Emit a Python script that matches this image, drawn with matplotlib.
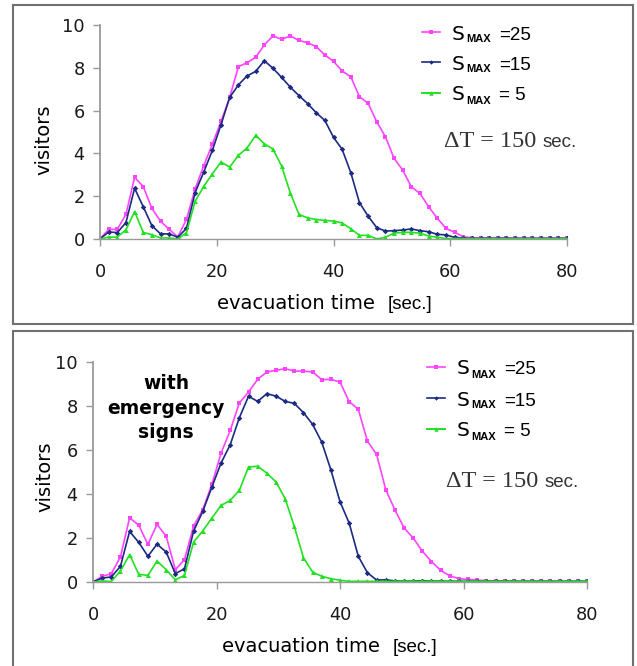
import numpy as np
import matplotlib
matplotlib.use('Agg')
import matplotlib.pyplot as plt
from matplotlib.patches import Rectangle

# time axis: 55 samples spread over 0..80 sec
t = np.linspace(0, 80, 55)

# top panel (no signs)
top_s25 = [0, 0.45, 0.45, 1.15, 2.88, 2.45, 1.43, 0.83, 0.45, 0.1,
           0.92, 2.34, 3.43, 4.44, 5.5, 6.62, 8.05, 8.24, 8.49, 9.07,
           9.49, 9.33, 9.49, 9.28, 9.17, 8.99, 8.6, 8.3, 7.85, 7.58,
           6.65, 6.34, 5.48, 4.78, 3.77, 3.22, 2.44, 2.13, 1.51, 0.97,
           0.5, 0.31, 0.11, 0.05, 0.05, 0.04, 0.04, 0.04, 0.03, 0.03,
           0.03, 0.03, 0.03, 0.03, 0.03]
top_s15 = [0, 0.33, 0.3, 0.77, 2.37, 1.51, 0.62, 0.24, 0.24, 0.08,
           0.5, 2.17, 3.13, 4.15, 5.35, 6.62, 7.2, 7.62, 7.83, 8.33,
           7.98, 7.55, 7.1, 6.7, 6.33, 5.9, 5.54, 4.75, 4.19, 3.1,
           1.7, 1.07, 0.53, 0.37, 0.39, 0.42, 0.47, 0.39, 0.34, 0.22,
           0.19, 0.08, 0.04, 0.03, 0.03, 0.03, 0.03, 0.03, 0.03, 0.03,
           0.03, 0.03, 0.03, 0.03, 0.03]
top_s5 = [0, 0.09, 0.09, 0.43, 1.28, 0.31, 0.2, 0.05, 0.05, 0.0,
          0.3, 1.76, 2.46, 3.05, 3.6, 3.36, 3.91, 4.25, 4.84, 4.45,
          4.2, 3.41, 2.16, 1.15, 0.99, 0.91, 0.87, 0.84, 0.75, 0.48,
          0.17, 0.17, 0.0, 0.08, 0.27, 0.31, 0.31, 0.27, 0.14, 0.08,
          0.02, 0.02, 0.02, 0.02, 0.02, 0.02, 0.02, 0.02, 0.02, 0.02,
          0.02, 0.02, 0.02, 0.02, 0.02]

# bottom panel (with emergency signs)
bot_s25 = [0, 0.26, 0.38, 1.14, 2.92, 2.58, 1.71, 2.62, 2.08, 0.56,
           1.02, 2.55, 3.29, 4.44, 5.86, 6.89, 8.14, 8.64, 9.21, 9.55,
           9.62, 9.7, 9.59, 9.58, 9.55, 9.2, 9.21, 9.09, 8.2, 7.85,
           6.4, 5.8, 4.2, 3.28, 2.46, 2.0, 1.4, 0.93, 0.53, 0.28,
           0.15, 0.12, 0.08, 0.06, 0.05, 0.05, 0.05, 0.04, 0.04, 0.04,
           0.03, 0.03, 0.03, 0.03, 0.03]
bot_s15 = [0, 0.18, 0.23, 0.71, 2.3, 1.8, 1.17, 1.72, 1.36, 0.38,
           0.6, 2.32, 3.21, 4.32, 5.41, 6.24, 7.47, 8.44, 8.21, 8.56,
           8.45, 8.21, 8.12, 7.7, 7.17, 6.36, 5.1, 3.65, 2.68, 1.17,
           0.42, 0.09, 0.1, 0.05, 0.04, 0.04, 0.06, 0.04, 0.04, 0.03,
           0.03, 0.03, 0.03, 0.03, 0.03, 0.03, 0.03, 0.03, 0.03, 0.03,
           0.03, 0.03, 0.03, 0.03, 0.03]
bot_s5 = [0, 0.05, 0.02, 0.5, 1.24, 0.35, 0.3, 0.95, 0.56, 0.1,
          0.3, 1.82, 2.32, 2.91, 3.48, 3.71, 4.17, 5.23, 5.26, 4.95,
          4.55, 3.79, 2.53, 1.11, 0.45, 0.26, 0.15, 0.08, 0.03, 0.03,
          0.03, 0.03, 0.03, 0.03, 0.03, 0.03, 0.03, 0.03, 0.03, 0.03,
          0.03, 0.03, 0.03, 0.03, 0.03, 0.03, 0.03, 0.03, 0.03, 0.03,
          0.03, 0.03, 0.03, 0.03, 0.03]

legend_vals = ['=25', '=15', '= 5']
xticks = [0, 20, 40, 60, 80]
yticks = [0, 2, 4, 6, 8, 10]

###plot configuration###
plt.rcParams['font.family'] = 'DejaVu Sans'
plt.rcParams['xtick.direction'] = 'out'
plt.rcParams['ytick.direction'] = 'out'
plt.rcParams['axes.linewidth'] = 1.0

W, H = 637, 666
fig = plt.figure(figsize=(W / 100, H / 100), dpi=100)

def fx(px):
    return px / W

def fy(py):
    return 1 - py / H

# panel frames
for (x0, y0, x1, y1) in [(13, 5, 633, 324), (13, 331, 633, 670)]:
    fig.patches.append(Rectangle((fx(x0), fy(y1)), fx(x1 - x0), fy(y0) - fy(y1),
                                 transform=fig.transFigure, fill=False,
                                 edgecolor='#707070', lw=1.5))

panels = [
    # axes box (left, top, right, bottom) in px and text anchors in px
    dict(box=(100, 25, 567, 239), data=(top_s25, top_s15, top_s5),
         leg_x=422, leg_y=(33, 63, 94), dt=(444, 147), xl=(217, 309), yl=(44, 140)),
    dict(box=(93, 362, 587, 582), data=(bot_s25, bot_s15, bot_s5),
         leg_x=427, leg_y=(368, 399, 430), dt=(446, 487), xl=(222, 652), yl=(45, 477)),
]

styles = [dict(color='#ff44ff', marker='s', ms=3.2),
          dict(color='#1c2a82', marker='D', ms=2.8),
          dict(color='#22e022', marker='^', ms=3.6)]

for p in panels:
    l, tp, r, b = p['box']
    ax = fig.add_axes([fx(l), fy(b), fx(r - l), fy(tp) - fy(b)])
    handles = []
    for y, st in zip(p['data'], styles):
        h, = ax.plot(t, y, lw=1.2, mew=0, **st)
        handles.append(h)
    ax.set_xlim(0, 80)
    ax.set_ylim(0, 10)
    ax.set_xticks(xticks)
    ax.set_yticks(yticks)
    for s in ['top', 'right']:
        ax.spines[s].set_visible(False)
    for s in ['left', 'bottom']:
        ax.spines[s].set_color('#999999')
    ax.spines['left'].set_linewidth(1.3)
    ax.tick_params(axis='both', colors='#999999', labelcolor='#1a1a1a',
                   labelsize=12.8, length=5, width=1.0)
    ax.tick_params(axis='x', pad=12)
    ax.tick_params(axis='y', pad=6)
    ax.patch.set_alpha(0)

    # one legend per row so each handle sits exactly on its text row
    lx = p['leg_x']
    for h, ry, val in zip(handles, p['leg_y'], legend_vals):
        lg = ax.legend([h], [''], loc='center left', bbox_to_anchor=(fx(lx), fy(ry)),
                       bbox_transform=fig.transFigure, frameon=False, fontsize=10,
                       handlelength=1.3, handletextpad=0, borderpad=0,
                       borderaxespad=0, markerscale=0.8)
        ax.add_artist(lg)
        base = ry + 6.5
        fig.text(fx(lx + 30), fy(base), 'S', family='DejaVu Sans',
                 fontsize=14.5, va='baseline')
        fig.text(fx(lx + 44), fy(base + 3), 'MAX', family='Liberation Sans',
                 weight='bold', fontsize=8, va='baseline')
        fig.text(fx(lx + 77), fy(base), val, family='Liberation Sans',
                 fontsize=13.5, va='baseline')

    dx, dy = p['dt']
    fig.text(fx(dx), fy(dy), '\u0394T = 150', family='Liberation Serif',
             fontsize=17.5, color='#333333', va='baseline')
    fig.text(fx(dx + 99), fy(dy), 'sec.', family='Liberation Sans',
             fontsize=13.5, color='#333333', va='baseline')

    xx, xy = p['xl']
    fig.text(fx(xx), fy(xy), 'evacuation time', fontsize=14, va='baseline')
    fig.text(fx(xx + 171), fy(xy), '[sec.]', family='Liberation Sans',
             fontsize=13.5, va='baseline')
    yx, yy = p['yl']
    fig.text(fx(yx), fy(yy), 'visitors', fontsize=14, rotation=90,
             ha='center', va='center')

fig.text(fx(166), fy(408), 'with\nemergency\nsigns', fontsize=13.5, weight='bold',
         ha='center', va='center', linespacing=1.35)

plt.savefig('out.png', dpi=100)
